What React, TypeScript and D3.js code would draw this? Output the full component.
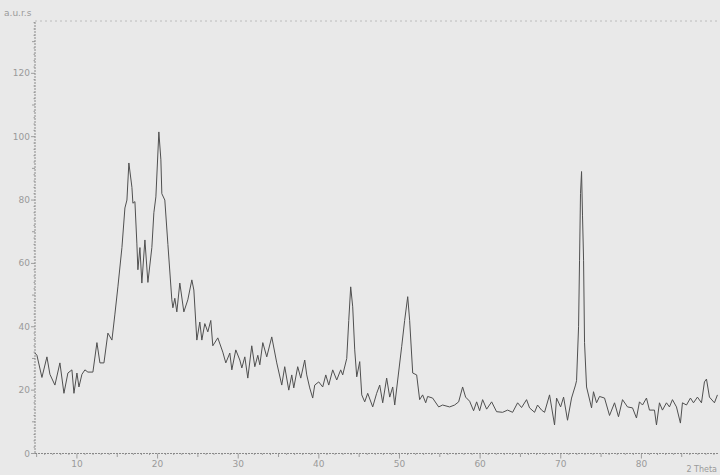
import React from "react";
import * as d3 from "d3";

// 2-theta positions (degrees) and intensities
const twoTheta = [
  4.8, 5.04, 5.66, 6.28, 6.65, 7.27, 7.89, 8.39, 8.88, 9.38, 9.63, 10.0, 10.25, 10.62, 10.99, 11.36, 11.98,
  12.48, 12.85, 13.35, 13.84, 14.34, 14.71, 15.08, 15.58, 15.95, 16.2, 16.44, 16.82, 16.94, 17.19, 17.43,
  17.56, 17.81, 18.05, 18.43, 18.8, 19.29, 19.54, 19.79, 20.16, 20.41, 20.53, 20.9, 21.28, 21.77, 21.9,
  22.14, 22.39, 22.76, 23.26, 23.75, 24.25, 24.5, 24.87, 25.24, 25.49, 25.86, 26.23, 26.6, 26.85, 27.47,
  28.09, 28.46, 28.96, 29.21, 29.7, 30.2, 30.45, 30.82, 31.19, 31.68, 32.06, 32.43, 32.68, 33.05, 33.54,
  34.16, 34.78, 35.4, 35.77, 36.27, 36.64, 36.89, 37.38, 37.76, 38.25, 38.5, 38.87, 39.24, 39.49, 39.99,
  40.48, 40.86, 41.23, 41.72, 42.22, 42.71, 42.96, 43.46, 43.71, 43.95, 44.2, 44.45, 44.7, 45.07, 45.32,
  45.69, 46.06, 46.68, 47.17, 47.55, 47.92, 48.41, 48.79, 49.16, 49.41, 49.78, 50.27, 50.64, 51.02, 51.26,
  51.64, 52.13, 52.5, 52.87, 53.25, 53.49, 54.11, 54.86, 55.35, 56.22, 56.84, 57.34, 57.83, 58.2, 58.7,
  59.19, 59.57, 59.94, 60.31, 60.81, 61.43, 62.04, 62.79, 63.41, 64.03, 64.65, 65.14, 65.76, 66.13, 66.75,
  67.12, 67.62, 67.99, 68.61, 69.23, 69.48, 69.98, 70.35, 70.84, 71.34, 71.83, 71.96, 72.21, 72.33, 72.45,
  72.58, 72.7, 72.83, 72.95, 73.2, 73.82, 74.06, 74.44, 74.81, 75.43, 76.05, 76.67, 77.16, 77.66, 78.28,
  78.9, 79.39, 79.76, 80.14, 80.63, 81.0, 81.62, 81.87, 82.24, 82.61, 83.11, 83.48, 83.85, 84.35, 84.84,
  85.09, 85.59, 86.08, 86.46, 86.95, 87.45, 87.82, 88.07, 88.44, 89.06, 89.43,
];

const intensity = [
  31.7, 31.0, 24.0, 30.5, 25.0, 21.6, 28.6, 19.0, 25.4, 26.4, 19.0, 25.4, 21.0, 25.0, 26.4, 25.7, 25.7,
  35.0, 28.6, 28.6, 38.0, 35.8, 44.0, 52.6, 65.0, 77.5, 80.0, 91.7, 84.0, 79.0, 79.5, 66.4,
  58.0, 65.0, 53.8, 67.4, 54.0, 65.0, 76.0, 81.0, 101.5, 92.7, 82.0, 80.0, 66.0, 48.5, 46.0,
  49.0, 44.7, 53.8, 44.7, 48.5, 54.8, 51.6, 35.8, 41.5, 35.8, 41.0, 38.4, 42.0, 34.0, 36.5,
  32.0, 28.6, 31.7, 26.4, 32.7, 29.5, 27.0, 30.5, 23.8, 34.0, 27.4, 31.0, 28.0, 35.0, 30.5,
  36.8, 28.6, 21.6, 27.4, 20.0, 24.8, 20.7, 27.4, 23.8, 29.5, 24.8, 20.7, 17.5, 21.6, 22.6,
  21.0, 24.8, 21.6, 26.4, 23.2, 26.4, 24.8, 30.0, 42.0, 52.6, 46.3, 32.7, 24.2, 29.0, 18.5,
  16.3, 19.0, 14.7, 19.0, 21.6, 16.0, 23.8, 17.8, 21.0, 15.3, 23.2, 33.7, 42.0, 49.5, 42.0,
  25.4, 24.8, 17.0, 18.5, 16.0, 18.0, 17.5, 14.7, 15.3, 14.7, 15.3, 16.3, 21.0, 17.8, 16.5,
  13.5, 16.3, 13.5, 17.0, 14.0, 16.3, 13.2, 13.0, 13.7, 13.0, 16.0, 14.5, 17.0, 14.4, 13.0,
  15.3, 13.7, 13.0, 18.5, 9.0, 17.5, 14.7, 17.8, 10.5, 17.5, 21.6, 23.0, 40.0, 61.0, 82.0,
  89.0, 75.0, 61.0, 35.0, 21.0, 14.4, 19.5, 16.0, 18.0, 17.5, 12.0, 16.0, 11.6, 17.0, 14.7,
  14.4, 11.2, 16.3, 15.3, 17.5, 13.7, 13.7, 9.0, 16.0, 13.7, 16.0, 14.7, 17.0, 14.7, 9.6,
  16.0, 15.3, 17.5, 16.0, 17.8, 16.0, 22.6, 23.5, 17.8, 16.0, 18.5,
];

const xTickLabels = [10, 20, 30, 40, 50, 60, 70, 80];
const yTickLabels = [0, 20, 40, 60, 80, 100, 120];

const W = 720;
const H = 475;

export default function App() {
  const x = d3.scaleLinear().domain([4.8, 89.5]).range([35, 718]);
  const y = d3.scaleLinear().domain([0, 136.2]).range([453.5, 22]);

  const pts: [number, number][] = twoTheta.map((t, i) => [t, intensity[i]]);
  const line = d3.line<[number, number]>()
    .x(d => x(d[0]))
    .y(d => y(d[1]));

  // minor ticks
  const xMinor = d3.range(5, 90, 1);
  const yMinor = d3.range(0, 137, 2);

  const axisColor = "#8a8a8a";
  const textColor = "#9a9a9a";

  return (
    <div style={{position: "fixed", left: 0, top: 0}}>
      <svg width={W} height={H} style={{display: "block", background: "#e9e9e9"}}>
        {/* top frame line */}
        <line x1={35} x2={W} y1={21} y2={21} stroke="#b0b0b0" strokeWidth={0.8} strokeDasharray="2,3"/>

        {/* y axis */}
        <line x1={35} x2={35} y1={y(136.2)} y2={y(0)} stroke={axisColor} strokeWidth={1} strokeDasharray="2,1"/>
        {yMinor.map(v => (
          <line key={"ym" + v} x1={35 - (v % 20 === 0 ? 4 : v % 10 === 0 ? 3 : 1.5)} x2={35}
                y1={y(v)} y2={y(v)} stroke={axisColor} strokeWidth={0.8}/>
        ))}
        {yTickLabels.map(v => (
          <text key={"yl" + v} x={30} y={y(v) + 3} fontSize={9} fill={textColor}
                textAnchor="end" fontFamily="DejaVu Sans">{v}</text>
        ))}
        <text x={4} y={16} fontSize={9} fill={textColor} fontFamily="DejaVu Sans">a.u.r.s</text>

        {/* x axis */}
        <line x1={35} x2={718} y1={y(0)} y2={y(0)} stroke={axisColor} strokeWidth={1} strokeDasharray="2,1"/>
        {xMinor.map(v => (
          <line key={"xm" + v} x1={x(v)} x2={x(v)} y1={y(0)}
                y2={y(0) + (v % 10 === 0 ? 5 : v % 5 === 0 ? 3.5 : 1.5)} stroke={axisColor} strokeWidth={0.8}/>
        ))}
        {xTickLabels.map(v => (
          <text key={"xl" + v} x={x(v)} y={467} fontSize={9} fill={textColor}
                textAnchor="middle" fontFamily="DejaVu Sans">{v}</text>
        ))}
        <text x={717} y={472} fontSize={8} fill={textColor} textAnchor="end" fontFamily="DejaVu Sans">2 Theta</text>

        {/* diffraction pattern */}
        <path d={line(pts) || ""} fill="none" stroke="#505050" strokeWidth={1} strokeLinejoin="round"/>
      </svg>
    </div>
  );
}
